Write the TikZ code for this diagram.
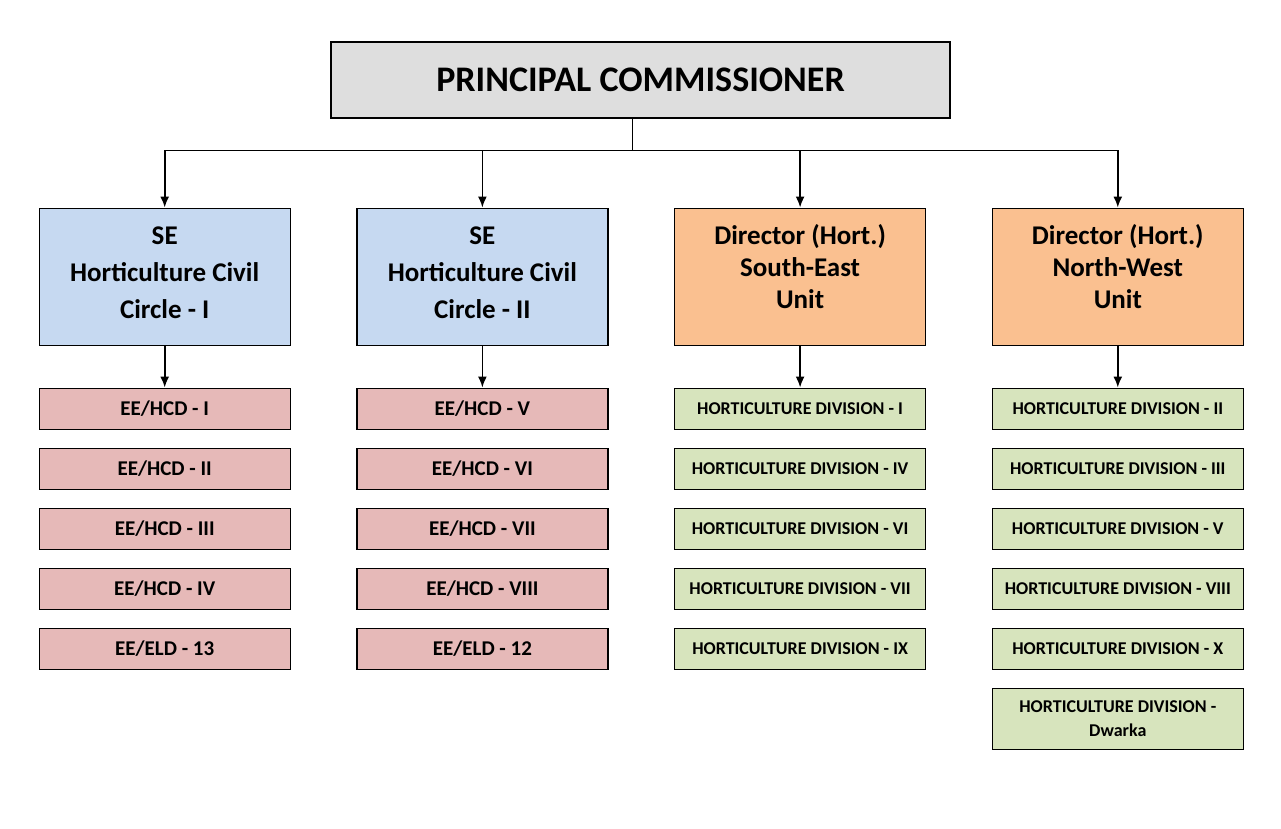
\documentclass[tikz,border=0pt]{standalone}
\usepackage{fontspec}
\setmainfont{Carlito}
\usepackage{tikz}
\usetikzlibrary{matrix,shapes,arrows.meta}

\definecolor{headgray}{HTML}{DEDEDE}
\definecolor{circblue}{HTML}{C6D9F1}
\definecolor{unitorange}{HTML}{FAC090}
\definecolor{eepink}{HTML}{E6B9B8}
\definecolor{hdgreen}{HTML}{D7E4BD}

\begin{document}
\begin{tikzpicture}[>={Latex[length=11pt,width=9pt]}, x=1pt, y=1pt,
box/.style={rectangle, draw, line width=1.4pt, inner sep=0pt, align=center},
head/.style={box, fill=headgray, minimum width=619pt, minimum height=76pt,
  font=\fontsize{36}{40}\selectfont\bfseries},
circ/.style={box, fill=circblue, minimum width=251pt, minimum height=137pt,
  text depth=8pt, font=\fontsize{27}{37}\selectfont\bfseries},
unit/.style={box, fill=unitorange, minimum width=251pt, minimum height=137pt,
  text depth=20pt, font=\fontsize{27}{32}\selectfont\bfseries},
ee/.style={box, fill=eepink, minimum width=251pt, minimum height=41pt,
  font=\fontsize{21}{24}\selectfont\bfseries},
hd/.style={box, fill=hdgreen, minimum width=251pt, minimum height=41pt,
  font=\fontsize{18}{24}\selectfont\bfseries},
conn/.style={line width=1.6pt},
]
\useasboundingbox (0,0) rectangle (1281,-829);
\node (pc) [head] at (640.5,-80) {PRINCIPAL COMMISSIONER};
\matrix (m) [row sep=17.6pt, column sep=65.3pt, inner sep=0pt, anchor=north west] at (38.3,-207.3) {
%circles and units
\node (c1) [circ] {SE\\Horticulture Civil\\Circle - I};&
\node (c2) [circ] {SE\\Horticulture Civil\\Circle - II};&
\node (u1) [unit] {Director (Hort.)\\South-East\\Unit};&
\node (u2) [unit] {Director (Hort.)\\North-West\\Unit};\\[24pt]
%divisions
\node (e11) [ee] {EE/HCD - I};&
\node (e21) [ee] {EE/HCD - V};&
\node (h11) [hd] {HORTICULTURE DIVISION - I};&
\node (h21) [hd] {HORTICULTURE DIVISION - II};\\
\node (e12) [ee] {EE/HCD - II};&
\node (e22) [ee] {EE/HCD - VI};&
\node (h12) [hd] {HORTICULTURE DIVISION - IV};&
\node (h22) [hd] {HORTICULTURE DIVISION - III};\\
\node (e13) [ee] {EE/HCD - III};&
\node (e23) [ee] {EE/HCD - VII};&
\node (h13) [hd] {HORTICULTURE DIVISION - VI};&
\node (h23) [hd] {HORTICULTURE DIVISION - V};\\
\node (e14) [ee] {EE/HCD - IV};&
\node (e24) [ee] {EE/HCD - VIII};&
\node (h14) [hd] {HORTICULTURE DIVISION - VII};&
\node (h24) [hd] {HORTICULTURE DIVISION - VIII};\\
\node (e15) [ee] {EE/ELD - 13};&
\node (e25) [ee] {EE/ELD - 12};&
\node (h15) [hd] {HORTICULTURE DIVISION - IX};&
\node (h25) [hd] {HORTICULTURE DIVISION - X};\\
&
&
&
\node (h26) [hd, minimum height=61pt] {HORTICULTURE DIVISION -\\Dwarka};\\
};
\draw [conn,->] ([xshift=-8pt]pc.south)--++(0,-32) -| (c1);
\draw [conn,->] ([xshift=-8pt]pc.south)--++(0,-32) -| (c2);
\draw [conn,->] ([xshift=-8pt]pc.south)--++(0,-32) -| (u1);
\draw [conn,->] ([xshift=-8pt]pc.south)--++(0,-32) -| (u2);
\draw [conn,->] (c1)--(e11);
\draw [conn,->] (c2)--(e21);
\draw [conn,->] (u1)--(h11);
\draw [conn,->] (u2)--(h21);
\end{tikzpicture}
\end{document}
